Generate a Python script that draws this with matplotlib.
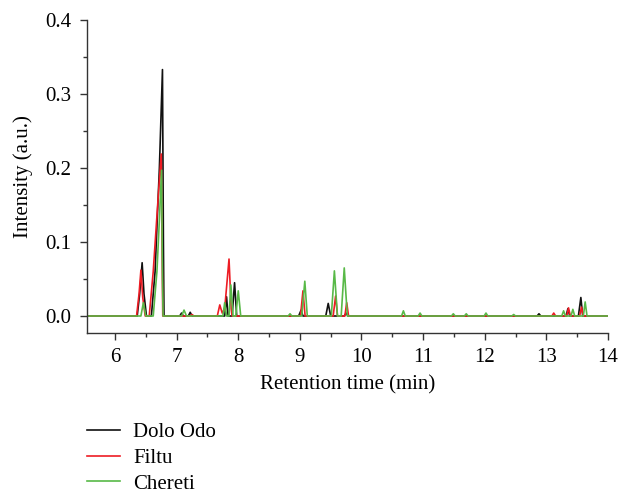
import matplotlib
matplotlib.use("Agg")
import matplotlib.pyplot as plt
from matplotlib.ticker import MultipleLocator, FormatStrFormatter

# Chromatogram traces (retention time in min, intensity in a.u.), one pair of lists per site
dolo_odo_t = [5.545, 6.36, 6.40, 6.44, 6.47, 6.51, 6.59, 6.65, 6.72, 6.77, 6.785, 6.795,
              7.05, 7.08, 7.11, 7.19, 7.22, 7.25, 7.78, 7.81, 7.835, 7.90, 7.94, 7.975,
              8.98, 9.02, 9.05, 9.42, 9.46, 9.50, 9.72, 9.75, 9.78, 12.85, 12.88, 12.91,
              13.32, 13.35, 13.38, 13.52, 13.56, 13.59, 14.0]
dolo_odo_v = [0.0, 0.0, 0.03, 0.072, 0.03, 0.0, 0.0, 0.06, 0.2, 0.333, 0.1, 0.0,
              0.0, 0.004, 0.0, 0.0, 0.005, 0.0, 0.0, 0.026, 0.0, 0.0, 0.045, 0.0,
              0.0, 0.008, 0.0, 0.0, 0.017, 0.0, 0.0, 0.004, 0.0, 0.0, 0.003, 0.0,
              0.0, 0.010, 0.0, 0.0, 0.025, 0.0, 0.0]

filtu_t = [5.545, 6.35, 6.39, 6.42, 6.45, 6.49, 6.555, 6.62, 6.70, 6.75, 6.765, 6.775,
           7.22, 7.25, 7.28, 7.66, 7.70, 7.74, 7.78, 7.85, 7.885, 7.90,
           9.01, 9.05, 9.085, 9.54, 9.58, 9.61, 9.73, 9.76, 9.79,
           13.09, 13.12, 13.15, 13.33, 13.36, 13.39, 13.54, 13.57, 13.60, 14.0]
filtu_v = [0.0, 0.0, 0.03, 0.062, 0.025, 0.0, 0.0, 0.06, 0.16, 0.219, 0.08, 0.0,
           0.0, 0.002, 0.0, 0.0, 0.015, 0.004, 0.01, 0.077, 0.01, 0.0,
           0.0, 0.034, 0.0, 0.0, 0.027, 0.0, 0.0, 0.018, 0.0,
           0.0, 0.004, 0.0, 0.0, 0.011, 0.0, 0.0, 0.012, 0.0, 0.0]

chereti_t = [5.545, 6.42, 6.46, 6.50, 6.62, 6.68, 6.72, 6.755, 6.77, 6.78,
             7.08, 7.12, 7.16, 7.75, 7.78, 7.81, 7.85, 7.88, 7.915, 7.96, 8.00, 8.04,
             8.81, 8.84, 8.87, 9.03, 9.08, 9.12, 9.51, 9.56, 9.61, 9.67, 9.72, 9.77,
             10.65, 10.68, 10.71, 10.92, 10.95, 10.98, 11.46, 11.49, 11.52,
             11.67, 11.70, 11.73, 11.99, 12.02, 12.05, 12.44, 12.47, 12.50,
             13.25, 13.28, 13.31, 13.40, 13.43, 13.46, 13.60, 13.63, 13.66, 14.0]
chereti_v = [0.0, 0.0, 0.018, 0.0, 0.0, 0.06, 0.13, 0.197, 0.05, 0.0,
             0.0, 0.008, 0.0, 0.0, 0.018, 0.0, 0.0, 0.042, 0.0, 0.0, 0.034, 0.0,
             0.0, 0.003, 0.0, 0.0, 0.047, 0.0, 0.0, 0.061, 0.0, 0.0, 0.065, 0.0,
             0.0, 0.007, 0.0, 0.0, 0.004, 0.0, 0.0, 0.003, 0.0,
             0.0, 0.003, 0.0, 0.0, 0.004, 0.0, 0.0, 0.002, 0.0,
             0.0, 0.007, 0.0, 0.0, 0.009, 0.0, 0.0, 0.019, 0.0, 0.0]

plt.rcParams["font.family"] = ["Liberation Serif", "DejaVu Serif"]
plt.rcParams["font.size"] = 15

fig = plt.figure(figsize=(6.2, 4.93), dpi=100)
ax = fig.add_axes([0.1403, 0.3245, 0.8403, 0.6349])

ax.plot(dolo_odo_t, dolo_odo_v, color="#111111", lw=1.2, label="Dolo Odo")
ax.plot(filtu_t, filtu_v, color="#ee1c24", lw=1.2, label="Filtu")
ax.plot(chereti_t, chereti_v, color="#58b947", lw=1.2, label="Chereti")

ax.set_xlim(5.545, 14.0)
ax.set_ylim(-0.023, 0.4)
ax.xaxis.set_major_locator(MultipleLocator(1))
ax.xaxis.set_minor_locator(MultipleLocator(0.5))
ax.yaxis.set_major_locator(MultipleLocator(0.1))
ax.yaxis.set_minor_locator(MultipleLocator(0.05))
ax.yaxis.set_major_formatter(FormatStrFormatter("%.1f"))

for side in ["top", "right"]:
    ax.spines[side].set_visible(False)
for side in ["left", "bottom"]:
    ax.spines[side].set_color("#333333")
    ax.spines[side].set_linewidth(1.0)

ax.tick_params(which="major", direction="out", length=5, width=1.0, color="#333333", pad=6)
ax.tick_params(which="minor", direction="out", length=3, width=1.0, color="#333333")

ax.set_xlabel("Retention time (min)", labelpad=6)
ax.set_ylabel("Intensity (a.u.)", labelpad=9)

fig.legend(loc="upper left", bbox_to_anchor=(0.1403, 0.143), frameon=False,
           handlelength=1.6, handletextpad=0.62, labelspacing=0.3,
           borderpad=0, borderaxespad=0)

fig.savefig("out.png", dpi=100)
